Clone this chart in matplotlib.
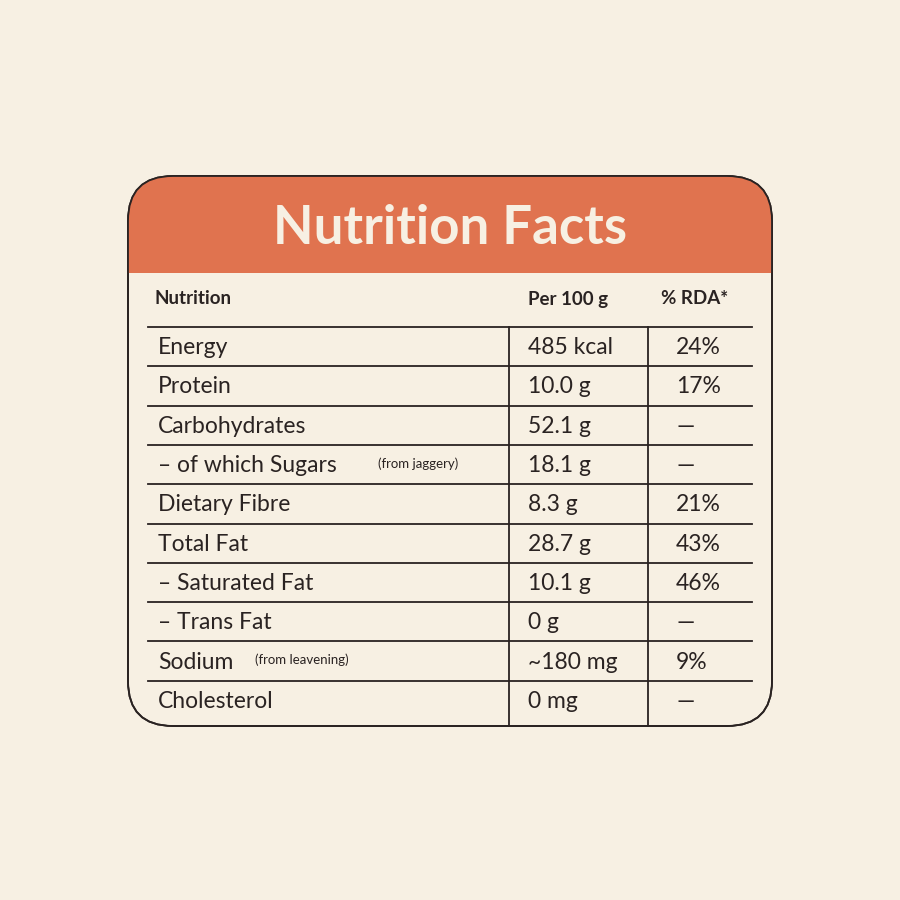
import matplotlib.pyplot as plt
from matplotlib.patches import FancyBboxPatch, Rectangle

# Table contents
nutrients = ["Energy", "Protein", "Carbohydrates", "\u2013 of which Sugars", "Dietary Fibre",
             "Total Fat", "\u2013 Saturated Fat", "\u2013 Trans Fat", "Sodium", "Cholesterol"]
notes = ["", "", "", "(from jaggery)", "", "", "", "", "(from leavening)", ""]
per_100g = ["485 kcal", "10.0 g", "52.1 g", "18.1 g", "8.3 g", "28.7 g", "10.1 g", "0 g", "~180 mg", "0 mg"]
rda = ["24%", "17%", "\u2014", "\u2014", "21%", "43%", "46%", "\u2014", "9%", "\u2014"]
headers = ["Nutrition", "Per 100 g", "% RDA*"]

bg = "#F7F0E3"
orange = "#E0734F"
ink = "#2A2322"
font = "Lato"

fig = plt.figure(figsize=(9, 9), dpi=100, facecolor=bg)
ax = fig.add_axes([0, 0, 1, 1])
ax.set_xlim(0, 900)
ax.set_ylim(900, 0)
ax.axis("off")

# card
card = FancyBboxPatch((128, 176), 644, 550, boxstyle="round,pad=0,rounding_size=45",
                      facecolor=bg, edgecolor=ink, linewidth=1.3, zorder=1)
ax.add_patch(card)
head = Rectangle((128, 176), 644, 97, facecolor=orange, edgecolor="none", zorder=2)
ax.add_patch(head)
head.set_clip_path(card)
edge = FancyBboxPatch((128, 176), 644, 550, boxstyle="round,pad=0,rounding_size=45",
                      facecolor="none", edgecolor=ink, linewidth=1.3, zorder=3)
ax.add_patch(edge)

ax.text(450, 228, "Nutrition Facts", ha="center", va="center", fontsize=38,
        fontweight="bold", color=bg, family=font, zorder=4)

# column headers
for x, h in zip([155, 528, 661], headers):
    ax.text(x, 299, h, ha="left", va="center", fontsize=13.5, fontweight="bold",
            color=ink, family=font)

# grid
top = 327
row_h = 39.3
n = len(nutrients)
for i in range(n):
    y = top + i * row_h
    ax.plot([148, 752], [y, y], color=ink, lw=1.3)
for x in [509, 648]:
    ax.plot([x, x], [top, 726], color=ink, lw=1.3)

note_x = {3: 378, 8: 255}
for i in range(n):
    yc = top + (i + 0.5) * row_h + 1
    ax.text(158, yc, nutrients[i], ha="left", va="center", fontsize=16.5, color=ink, family=font)
    if notes[i]:
        ax.text(note_x[i], yc - 2, notes[i], ha="left", va="center", fontsize=9.5, color=ink, family=font)
    ax.text(528, yc, per_100g[i], ha="left", va="center", fontsize=16.5, color=ink, family=font)
    ax.text(676, yc, rda[i], ha="left", va="center", fontsize=16.5, color=ink, family=font)

fig.savefig("out.png", dpi=100, facecolor=bg)
